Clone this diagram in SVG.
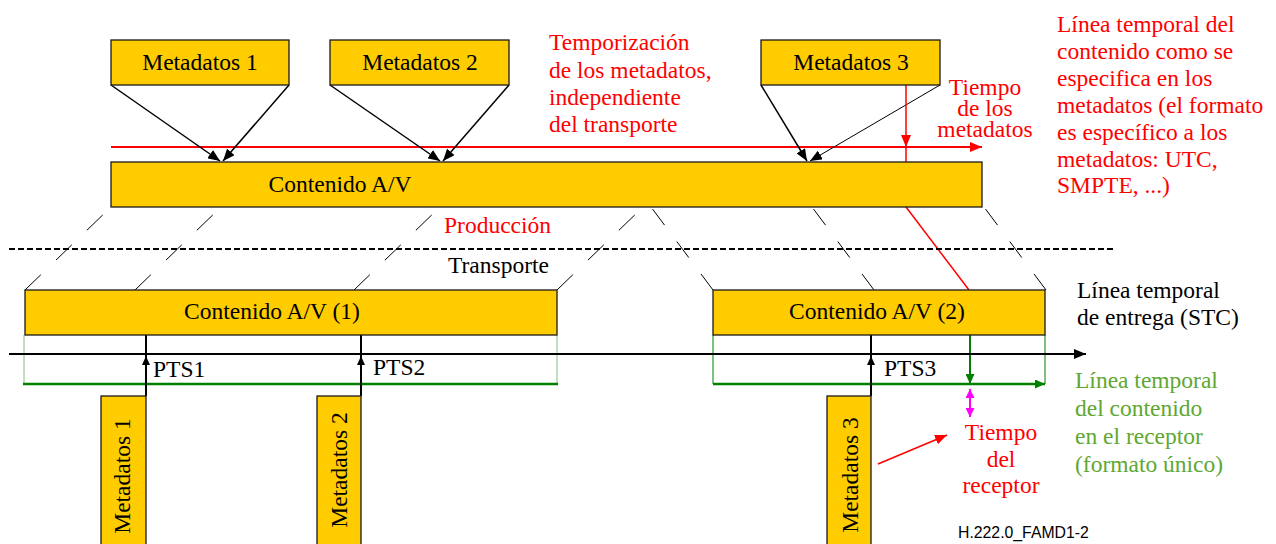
<svg xmlns="http://www.w3.org/2000/svg" width="1276" height="544" viewBox="0 0 1276 544">
<style>
.box{fill:#FFCC00;stroke:#1a1a1a;stroke-width:1.3}
.t{font-family:"Liberation Serif","Times New Roman",serif;font-size:23.5px;fill:#000}
.red{fill:#FF0000}
.grn{fill:#5EA832}
.c{text-anchor:middle}
.proj{stroke:#000;stroke-width:1;fill:none}
.pl{stroke-dasharray:22 21}
.pr{stroke-dasharray:20 20.5}
</style>
<defs>
<marker id="ab" markerWidth="12" markerHeight="10" refX="12" refY="5" orient="auto" markerUnits="userSpaceOnUse"><path d="M0,0 L12,5 L0,10 z" fill="#000"/></marker>
<marker id="abs" markerWidth="9" markerHeight="8" refX="9" refY="4" orient="auto" markerUnits="userSpaceOnUse"><path d="M0,0 L9,4 L0,8 z" fill="#000"/></marker>
<marker id="ar" markerWidth="12" markerHeight="10" refX="12" refY="5" orient="auto" markerUnits="userSpaceOnUse"><path d="M0,0 L12,5 L0,10 z" fill="#FF0000"/></marker>
<marker id="ag" markerWidth="10" markerHeight="9" refX="10" refY="4.5" orient="auto" markerUnits="userSpaceOnUse"><path d="M0,0 L10,4.5 L0,9 z" fill="#008000"/></marker>
<marker id="am" markerWidth="9" markerHeight="9" refX="9" refY="4.5" orient="auto-start-reverse" markerUnits="userSpaceOnUse"><path d="M0,0 L9,4.5 L0,9 z" fill="#FF00FF"/></marker>
</defs>
<rect width="1276" height="544" fill="#fff"/>

<g id="connectors">
  <!-- red metadata timeline -->
  <line x1="111" y1="147" x2="982" y2="147" stroke="#FF0000" stroke-width="2" marker-end="url(#ar)"/>
  <!-- metadata arrows -->
  <line x1="111" y1="85" x2="220" y2="161" stroke="#000" stroke-width="1.5" marker-end="url(#ab)"/>
  <line x1="289" y1="85" x2="223" y2="161" stroke="#000" stroke-width="1.5" marker-end="url(#ab)"/>
  <line x1="330" y1="85" x2="440" y2="161" stroke="#000" stroke-width="1.5" marker-end="url(#ab)"/>
  <line x1="509" y1="85" x2="443" y2="161" stroke="#000" stroke-width="1.5" marker-end="url(#ab)"/>
  <line x1="761" y1="85" x2="807" y2="161" stroke="#000" stroke-width="1.5" marker-end="url(#ab)"/>
  <line x1="940" y1="85" x2="810" y2="161" stroke="#000" stroke-width="1" marker-end="url(#ab)"/>
  <!-- red time of metadata -->
  <line x1="906" y1="85" x2="906" y2="147" stroke="#FF0000" stroke-width="1.5" marker-end="url(#ar)"/>
  <line x1="906" y1="147" x2="906" y2="162" stroke="#FF0000" stroke-width="1.5"/>
  <line x1="906" y1="207" x2="969" y2="290" stroke="#FF0000" stroke-width="1.5"/>
  <!-- production / transport separator -->
  <line x1="9" y1="249" x2="1115" y2="249" stroke="#000" stroke-width="2" stroke-dasharray="6 3"/>
  <!-- projection lines -->
  <line class="proj pl" x1="25" y1="290" x2="111" y2="207"/>
  <line class="proj pl" x1="135" y1="290" x2="221" y2="207"/>
  <line class="proj pl" x1="354" y1="290" x2="440" y2="207"/>
  <line class="proj pl" x1="557" y1="290" x2="643" y2="207"/>
  <line class="proj pr" x1="713" y1="290" x2="651" y2="207"/>
  <line class="proj pr" x1="874" y1="290" x2="812" y2="207"/>
  <line class="proj pr" x1="1046" y1="290" x2="984" y2="207"/>
  <!-- green receiver timelines -->
  <line x1="24" y1="335" x2="24" y2="384" stroke="#7FC07F" stroke-width="1"/>
  <line x1="557" y1="335" x2="557" y2="384" stroke="#7FC07F" stroke-width="1"/>
  <line x1="23" y1="384" x2="558" y2="384" stroke="#008000" stroke-width="2.5"/>
  <line x1="713" y1="335" x2="713" y2="384" stroke="#008000" stroke-width="1"/>
  <line x1="1045" y1="335" x2="1045" y2="384" stroke="#008000" stroke-width="1"/>
  <line x1="713" y1="384" x2="1045" y2="384" stroke="#008000" stroke-width="2.5" marker-end="url(#ag)"/>
  <line x1="970" y1="335" x2="970" y2="384" stroke="#008000" stroke-width="2" marker-end="url(#ag)"/>
  <!-- STC axis -->
  <line x1="9" y1="354" x2="1086" y2="354" stroke="#000" stroke-width="2" marker-end="url(#ab)"/>
  <!-- PTS lines -->
  <line x1="146" y1="335" x2="146" y2="396" stroke="#000" stroke-width="2"/>
  <line x1="146" y1="396" x2="146" y2="356" stroke="#000" stroke-width="2" marker-end="url(#abs)"/>
  <line x1="361" y1="335" x2="361" y2="396" stroke="#000" stroke-width="2"/>
  <line x1="361" y1="396" x2="361" y2="356" stroke="#000" stroke-width="2" marker-end="url(#abs)"/>
  <line x1="871" y1="335" x2="871" y2="396" stroke="#000" stroke-width="2"/>
  <line x1="871" y1="396" x2="871" y2="356" stroke="#000" stroke-width="2" marker-end="url(#abs)"/>
  <!-- receiver time -->
  <line x1="970" y1="389" x2="970" y2="417" stroke="#FF00FF" stroke-width="2" marker-start="url(#am)" marker-end="url(#am)"/>
  <line x1="878" y1="464" x2="947" y2="435" stroke="#FF0000" stroke-width="1.5" marker-end="url(#ar)"/>
</g>

<g id="meta1"><rect class="box" x="111" y="40" width="178" height="45"/><text class="t c" x="200" y="70">Metadatos 1</text></g>
<g id="meta2"><rect class="box" x="330" y="40" width="179" height="45"/><text class="t c" x="420" y="70">Metadatos 2</text></g>
<g id="meta3"><rect class="box" x="761" y="40" width="179" height="45"/><text class="t c" x="851" y="70">Metadatos 3</text></g>

<g id="contenido"><rect class="box" x="111" y="162" width="871" height="45"/><text class="t c" x="340" y="192">Contenido A/V</text></g>
<g id="contenido1"><rect class="box" x="25" y="290" width="532" height="45"/><text class="t c" x="272" y="319">Contenido A/V (1)</text></g>
<g id="contenido2"><rect class="box" x="713" y="290" width="332" height="45"/><text class="t c" x="877" y="319">Contenido A/V (2)</text></g>

<g id="meta1v"><rect class="box" x="101" y="396" width="45" height="160"/><text class="t c" x="130" y="476" transform="rotate(-90 130 476)">Metadatos 1</text></g>
<g id="meta2v"><rect class="box" x="317" y="396" width="44" height="160"/><text class="t c" x="347" y="470" transform="rotate(-90 347 470)">Metadatos 2</text></g>
<g id="meta3v"><rect class="box" x="827" y="396" width="44" height="160"/><text class="t c" x="858" y="475" transform="rotate(-90 858 475)">Metadatos 3</text></g>

<g id="labels">
  <text class="t" x="153" y="377">PTS1</text>
  <text class="t" x="373" y="375">PTS2</text>
  <text class="t" x="884" y="376">PTS3</text>
  <text class="t red" x="444" y="233">Producción</text>
  <text class="t" x="448" y="273">Transporte</text>
  <text class="t red" x="549"><tspan x="549" y="50">Temporización</tspan><tspan x="549" y="77.5">de los metadatos,</tspan><tspan x="549" y="105">independiente</tspan><tspan x="549" y="132">del transporte</tspan></text>
  <text class="t red c"><tspan x="985" y="95">Tiempo</tspan><tspan x="985" y="116">de los</tspan><tspan x="985" y="137">metadatos</tspan></text>
  <text class="t red" x="1057"><tspan x="1057" y="32">Línea temporal del</tspan><tspan x="1057" y="59">contenido como se</tspan><tspan x="1057" y="86">especifica en los</tspan><tspan x="1057" y="112.5">metadatos (el formato</tspan><tspan x="1057" y="139.5">es específico a los</tspan><tspan x="1057" y="166.5">metadatos: UTC,</tspan><tspan x="1057" y="193">SMPTE, ...)</tspan></text>
  <text class="t" x="1077"><tspan x="1077" y="298">Línea temporal</tspan><tspan x="1077" y="325">de entrega (STC)</tspan></text>
  <text class="t grn" x="1075"><tspan x="1075" y="388">Línea temporal</tspan><tspan x="1075" y="416">del contenido</tspan><tspan x="1075" y="444">en el receptor</tspan><tspan x="1075" y="472">(formato único)</tspan></text>
  <text class="t red c"><tspan x="1001" y="440">Tiempo</tspan><tspan x="1001" y="467">del</tspan><tspan x="1001" y="493">receptor</tspan></text>
  <text x="958" y="538" style="font-family:'Liberation Sans',Arial,sans-serif;font-size:15.8px;fill:#000">H.222.0_FAMD1-2</text>
</g>
</svg>
